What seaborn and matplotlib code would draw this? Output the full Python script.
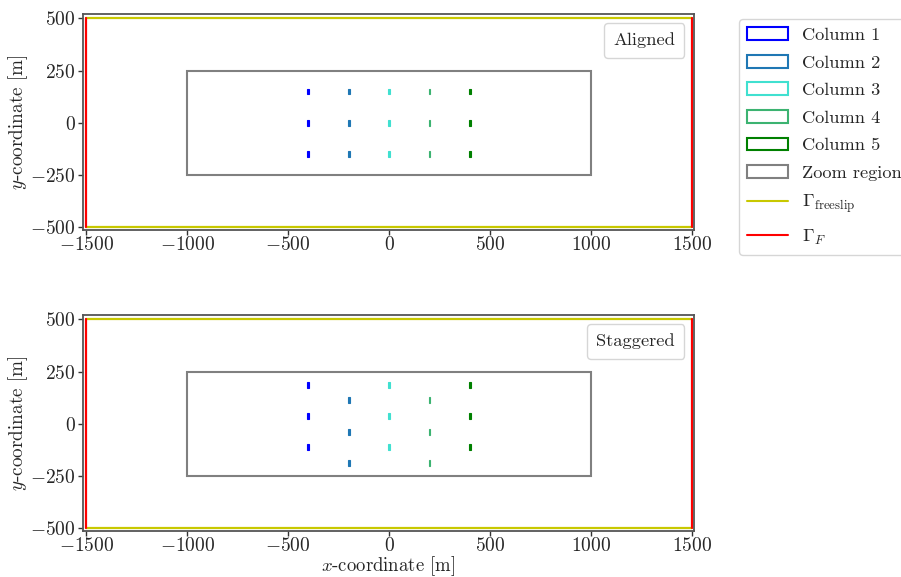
import numpy as np
import pandas as pd
import matplotlib
matplotlib.use("Agg")
import matplotlib.pyplot as plt
from matplotlib.patches import Rectangle
from matplotlib.lines import Line2D
import seaborn as sns

# ---------------- data ----------------
column_labels = ["Column 1", "Column 2", "Column 3", "Column 4", "Column 5"]
column_colors = ["blue", "tab:blue", "turquoise", "mediumseagreen", "green"]
column_x = [-400, -200, 0, 200, 400]
aligned_y = [[150, 0, -150]] * 5
staggered_y = [[187.5, 37.5, -112.5],
               [112.5, -37.5, -187.5],
               [187.5, 37.5, -112.5],
               [112.5, -37.5, -187.5],
               [187.5, 37.5, -112.5]]
layout_titles = ["Aligned", "Staggered"]
zoom_x = [-1000, 1000]
zoom_y = [-250, 250]
domain_x = [-1500, 1500]
domain_y = [-500, 500]
xticks = [-1500, -1000, -500, 0, 500, 1000, 1500]
yticks = [-500, -250, 0, 250, 500]
turbine_w = 9
turbine_h = 28

# ---------------- style ----------------
FS = 13.2
sns.set_theme(style="ticks")
plt.rcParams["font.family"] = "serif"
plt.rcParams["font.serif"] = ["cmr10", "DejaVu Serif"]
plt.rcParams["mathtext.fontset"] = "cm"
plt.rcParams["axes.formatter.use_mathtext"] = True
plt.rcParams["axes.unicode_minus"] = True
for k in ["font.size", "axes.labelsize", "legend.fontsize", "legend.title_fontsize"]:
    plt.rcParams[k] = FS
plt.rcParams["axes.labelsize"] = 13.8
plt.rcParams["xtick.labelsize"] = 14.0
plt.rcParams["ytick.labelsize"] = 14.0

fig = plt.figure(figsize=(9.01, 5.77), dpi=100)
ax_top = fig.add_axes([83.3 / 901, 1 - 229.5 / 577, 610.2 / 901, 215.5 / 577])
ax_bot = fig.add_axes([83.3 / 901, 1 - 530.5 / 577, 610.2 / 901, 215.5 / 577])

# boundary data frames
free_df = pd.DataFrame({
    "x": [domain_x[0], domain_x[1], domain_x[0], domain_x[1]],
    "y": [domain_y[1], domain_y[1], domain_y[0], domain_y[0]],
    "seg": [0, 0, 1, 1],
})
f_df = pd.DataFrame({
    "x": [domain_x[0], domain_x[0], domain_x[1], domain_x[1]],
    "y": [domain_y[0], domain_y[1], domain_y[0], domain_y[1]],
    "seg": [0, 0, 1, 1],
})

for ax, ys, title in zip([ax_top, ax_bot], [aligned_y, staggered_y], layout_titles):
    sns.lineplot(data=free_df, x="x", y="y", units="seg", estimator=None,
                 sort=False, color="#c8c800", lw=1.6, ax=ax)
    sns.lineplot(data=f_df, x="x", y="y", units="seg", estimator=None,
                 sort=False, color="red", lw=1.6, ax=ax, orient="y")
    ax.add_patch(Rectangle((zoom_x[0], zoom_y[0]), zoom_x[1] - zoom_x[0],
                           zoom_y[1] - zoom_y[0], fill=False,
                           edgecolor="gray", lw=1.5))
    for cx, cys, col in zip(column_x, ys, column_colors):
        for cy in cys:
            ax.add_patch(Rectangle((cx - turbine_w / 2, cy - turbine_h / 2),
                                   turbine_w, turbine_h, facecolor=col,
                                   edgecolor=col, lw=0.8))
    ax.set_xlim(-1515, 1508)
    ax.set_ylim(-510, 521)
    ax.set_xticks(xticks)
    ax.set_yticks(yticks)
    ax.set_ylabel(r"$y$-coordinate [m]")
    ax.yaxis.set_label_coords(-0.087, 0.5)
    ax.set_xlabel("")
    for s in ax.spines.values():
        s.set_color("#555555")
        s.set_linewidth(1.3)
    ax.tick_params(length=3.5, width=1, color="#333333", pad=2)
    ax.tick_params(axis="x", pad=1.5)
    leg = ax.legend([Line2D([], [], alpha=0)], [title], loc="upper right",
                    handlelength=0, handletextpad=0, fancybox=True,
                    framealpha=0.8, edgecolor="0.8", borderaxespad=0.5,
                    borderpad=0.5, fontsize=13.3)

ax_bot.set_xlabel(r"$x$-coordinate [m]", labelpad=-0.8, fontsize=13.5)

handles = [Rectangle((0, 0), 1, 1, fill=False, edgecolor=c, lw=1.5)
           for c in column_colors]
handles.append(Rectangle((0, 0), 1, 1, fill=False, edgecolor="gray", lw=1.5))
handles.append(Line2D([], [], color="#c8c800", lw=1.5))
handles.append(Line2D([], [], color="red", lw=1.5))
labels = column_labels + ["Zoom region", r"$\Gamma_{\mathrm{freeslip}}$", r"$\Gamma_F$"]
fig.legend(handles, labels, loc="upper left",
           bbox_to_anchor=(739 / 901, 1 - 19 / 577), fancybox=True,
           edgecolor="0.8", framealpha=0.8, borderaxespad=0,
           borderpad=0.45, labelspacing=0.64, handlelength=2.2,
           handletextpad=0.8)

fig.savefig("out.png", dpi=100)
